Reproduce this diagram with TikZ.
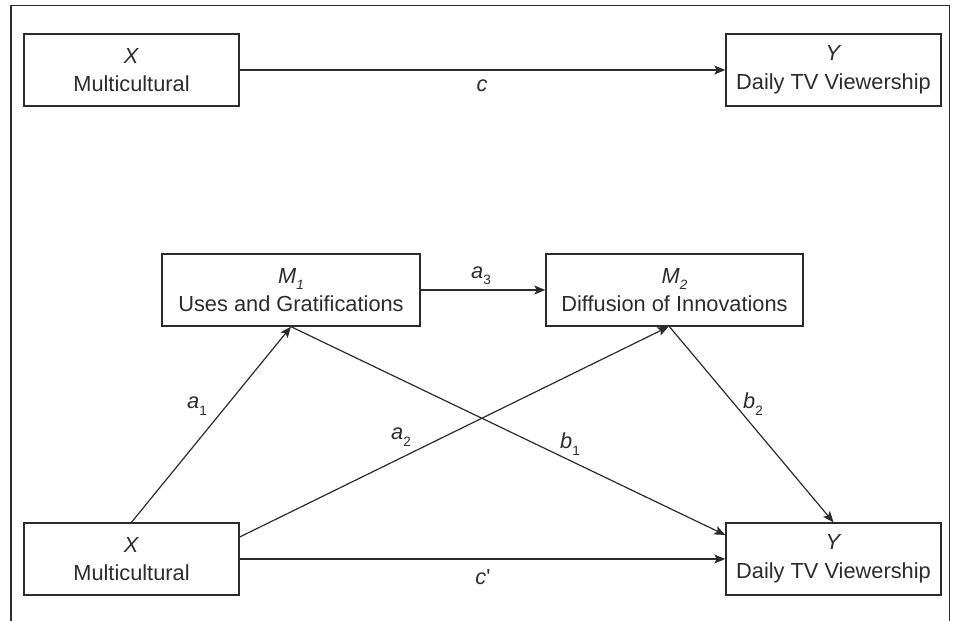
\documentclass[tikz,border=0pt]{standalone}
\usepackage{fontspec}
\setmainfont{Liberation Sans}
\usetikzlibrary{arrows.meta}
\definecolor{ink}{HTML}{2B2B2B}
\newcommand{\lowsub}[1]{\raisebox{-0.55ex}{\fontsize{13.5}{13.5}\selectfont #1}}
\tikzset{
  varbox/.style={draw=ink, line width=1.4pt, rectangle, minimum height=72pt, inner sep=0pt,
    align=center, text=ink, font=\fontsize{21.8}{28.5}\selectfont},
  conn/.style={draw=ink, line width=1.2pt, -{Stealth[length=11pt,width=9pt,inset=2.5pt]}},
  lab/.style={text=ink, inner sep=0pt, font=\fontsize{21.8}{24}\selectfont},
}
\begin{document}
\begin{tikzpicture}[x=1pt,y=-1pt]
\useasboundingbox (0,0) rectangle (956,621);
\draw[ink, line width=1.4pt] (11,621) -- (11,5.5) -- (949.5,5.5) -- (949.5,621);

\node[varbox, minimum width=215pt] (Xt) at (131.5,70) {\textit{X}\\Multicultural};
\node[varbox, minimum width=215pt] (Yt) at (833.5,70) {\textit{Y}\\Daily TV Viewership};
\node[varbox, minimum width=258pt] (M1) at (291,290) {\textit{M}\lowsub{\textit{1}}\\Uses and Gratifications};
\node[varbox, minimum width=257pt] (M2) at (674.5,290) {\textit{M}\lowsub{\textit{2}}\\Diffusion of Innovations};
\node[varbox, minimum width=215pt] (Xb) at (131.5,559) {\textit{X}\\Multicultural};
\node[varbox, minimum width=215pt] (Yb) at (833.5,559) {\textit{Y}\\Daily TV Viewership};

\draw[conn] (Xt.east) -- (Yt.west);
\draw[conn] (M1.east) -- (M2.west);
\draw[conn] (Xb.east) -- (Yb.west);
\draw[conn] (Xb.north) -- (M1.south);
\draw[conn] ([yshift=22pt]Xb.east) -- ([xshift=-6pt]M2.south);
\draw[conn] (M1.south) -- ([yshift=24pt]Yb.west);
\draw[conn] ([xshift=-5pt]M2.south) -- (Yb.north);

\node[lab] (lc) at (482,86) {\textit{c}};
\node[lab] (lcp) at (483,577) {\textit{c}\textquotesingle};
\node[lab] (la3) at (481,276) {\textit{a}\lowsub{3}};
\node[lab] (la1) at (197,406) {\textit{a}\lowsub{1}};
\node[lab] (la2) at (401,437) {\textit{a}\lowsub{2}};
\node[lab] (lb1) at (570,444) {\textit{b}\lowsub{1}};
\node[lab] (lb2) at (753,404) {\textit{b}\lowsub{2}};
\end{tikzpicture}
\end{document}
